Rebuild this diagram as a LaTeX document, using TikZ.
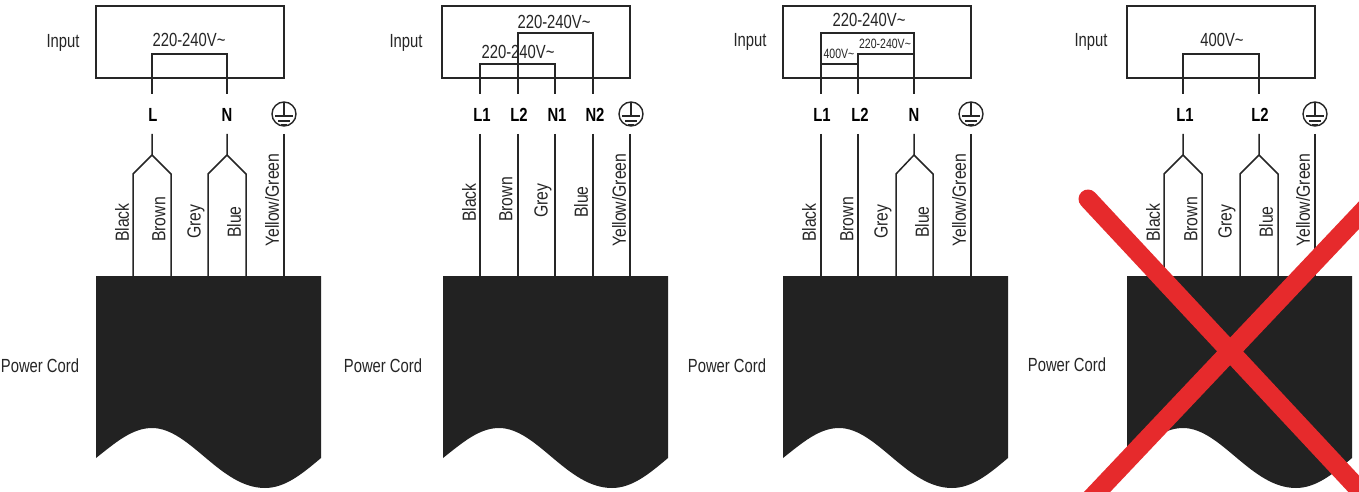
\documentclass[tikz,border=0pt]{standalone}
\usepackage{fontspec}
\setmainfont{Liberation Sans}
\newfontfamily\narrowf[FakeStretch=0.78]{Liberation Sans}
\newfontfamily\rotf[FakeStretch=0.83]{Liberation Sans}
\definecolor{ink}{HTML}{262626}
\definecolor{cordblack}{HTML}{222222}
\definecolor{crossred}{HTML}{E62A2C}
\tikzset{
  boxline/.style={draw=ink,line width=1.5pt,minimum width=188pt,minimum height=72pt,inner sep=0pt},
  wire/.style={draw=ink,line width=1.5pt,line join=miter},
  txt/.style={inner sep=0pt,text=ink,font=\fontsize{19}{19}\selectfont\narrowf},
  smalltxt/.style={inner sep=0pt,text=ink,font=\fontsize{13.500}{13.500}\selectfont\narrowf},
  term/.style={inner sep=0pt,text=black,font=\fontsize{19}{19}\selectfont\narrowf\bfseries},
  col/.style={inner sep=0pt,text=ink,rotate=90,anchor=west,font=\fontsize{19}{19}\selectfont\rotf},
  cordshape/.style={fill=cordblack,draw=none},
  crossline/.style={draw=crossred,line width=19pt,line cap=round},
  groundsym/.pic={
    \draw[ink,line width=1.4pt] (0,0) circle[radius=12];
    \draw[ink,line width=1.3pt] (0,-12) -- (0,2) (-9,2) -- (9,2) (-6,7) -- (6,7) (-3,11) -- (3,11);
  }
}
\newcommand{\cordat}[2]{\path[cordshape] (#1,276) -- (#1+225,276) -- (#1+225,458)
  .. controls (#1+206,474) and (#1+189,488) .. (#1+169,488)
  .. controls (#1+124,488) and (#1+94,428) .. (#1+56,428)
  .. controls (#1+36,428) and (#1+19,443) .. (#1,458) -- cycle;}
\begin{document}
\begin{tikzpicture}[x=1pt,y=-1pt]
\clip (0,0) rectangle (1359,492);
\fill[white] (0,0) rectangle (1359,492);

% ---------- panel 1
\node[boxline] (boxa) at (190,42) {};
\coordinate (aL) at (152,94); \coordinate (aN) at (227,94);
\coordinate (aLf) at (152,155); \coordinate (aNf) at (227,155);
\draw[wire] (aL) -- (152,54) -- (227,54) -- (aN);
\draw[wire] (152,134) -- (aLf) -- (133,174) -- (133,276);
\draw[wire] (aLf) -- (171,174) -- (171,276);
\draw[wire] (227,134) -- (aNf) -- (208,174) -- (208,276);
\draw[wire] (aNf) -- (246,174) -- (246,276);
\draw[wire] (284,134) -- (284,276);
\cordat{96}{}
\node[txt] (ainput) at (63,42.500) {Input};
\node[txt] (avolt) at (189,40) {220-240V\char`~};
\node[term] (atL) at (153,115) {L};
\node[term] (atN) at (227,115) {N};
\pic at (284,114) {groundsym};
\node[txt] (acord) at (40,366) {Power Cord};
\node[col] (a1) at (122,242) {Black};
\node[col] (a2) at (159,242) {Brown};
\node[col] (a3) at (196,239) {Grey};
\node[col] (a4) at (234,238) {Blue};
\node[col] (a5) at (272,247) {Yellow/Green};

% ---------- panel 2
\node[boxline] (boxb) at (536,42) {};
\draw[wire] (518,94) -- (518,33) -- (593,33) -- (593,94);
\draw[wire] (480,94) -- (480,64) -- (555,64) -- (555,94);
\draw[wire] (480,134) -- (480,276);
\draw[wire] (518,134) -- (518,276);
\draw[wire] (555,134) -- (555,276);
\draw[wire] (593,134) -- (593,276);
\draw[wire] (630,134) -- (630,276);
\cordat{443}{}
\node[txt] (binput) at (406,42.500) {Input};
\node[txt] (bvolt1) at (554,22) {220-240V\char`~};
\node[txt] (bvolt2) at (518,52) {220-240V\char`~};
\node[term] (btL1) at (482,115) {L1};
\node[term] (btL2) at (519,115) {L2};
\node[term] (btN1) at (557,115) {N1};
\node[term] (btN2) at (595,115) {N2};
\pic at (631,114) {groundsym};
\node[txt] (bcord) at (383,366) {Power Cord};
\node[col] (b1) at (469,222) {Black};
\node[col] (b2) at (506,222) {Brown};
\node[col] (b3) at (543,218) {Grey};
\node[col] (b4) at (581,218) {Blue};
\node[col] (b5) at (619,247) {Yellow/Green};

% ---------- panel 3
\node[boxline] (boxc) at (877,42) {};
\draw[wire] (821,94) -- (821,33) -- (914,33) -- (914,94);
\draw[wire] (821,64) -- (858,64) -- (858,94);
\draw[wire] (858,64) -- (858,54) -- (914,54);
\draw[wire] (821,134) -- (821,276);
\draw[wire] (858,134) -- (858,276);
\draw[wire] (914,134) -- (914,155) -- (896,174) -- (896,276);
\draw[wire] (914,155) -- (933,174) -- (933,276);
\draw[wire] (971,134) -- (971,276);
\cordat{783}{}
\node[txt] (cinput) at (750,42) {Input};
\node[txt] (cvolt1) at (869,20) {220-240V\char`~};
\node[smalltxt] (cvolt2) at (839,54) {400V\char`~};
\node[smalltxt] (cvolt3) at (885,44) {220-240V\char`~};
\node[term] (ctL1) at (822,115) {L1};
\node[term] (ctL2) at (860,115) {L2};
\node[term] (ctN) at (914,115) {N};
\pic at (971,114) {groundsym};
\node[txt] (ccord) at (727,366) {Power Cord};
\node[col] (c1) at (809,242) {Black};
\node[col] (c2) at (847,242) {Brown};
\node[col] (c3) at (883,239) {Grey};
\node[col] (c4) at (922,238) {Blue};
\node[col] (c5) at (959,247) {Yellow/Green};

% ---------- panel 4
\node[boxline] (boxd) at (1221,42) {};
\draw[wire] (1183,94) -- (1183,54) -- (1259,54) -- (1259,94);
\draw[wire] (1183,134) -- (1183,155) -- (1164,174) -- (1164,276);
\draw[wire] (1183,155) -- (1202,174) -- (1202,276);
\draw[wire] (1259,134) -- (1259,155) -- (1240,174) -- (1240,276);
\draw[wire] (1259,155) -- (1278,174) -- (1278,276);
\draw[wire] (1315,134) -- (1315,276);
\cordat{1127}{}
\node[txt] (dinput) at (1091,42) {Input};
\node[txt] (dvolt) at (1222,40) {400V\char`~};
\node[term] (dtL1) at (1185,115) {L1};
\node[term] (dtL2) at (1260,115) {L2};
\pic at (1315,114) {groundsym};
\node[txt] (dcord) at (1067,365) {Power Cord};
\node[col] (d1) at (1153,242) {Black};
\node[col] (d2) at (1191,242) {Brown};
\node[col] (d3) at (1227,239) {Grey};
\node[col] (d4) at (1266,238) {Blue};
\node[col] (d5) at (1303,247) {Yellow/Green};

% ---------- red cross
\coordinate (xa) at (1088,199);
\coordinate (xb) at (1380,512);
\coordinate (xc) at (1380,193);
\coordinate (xd) at (1080,510);
\draw[crossline] (xa) -- (xb);
\draw[crossline] (xc) -- (xd);
\end{tikzpicture}
\end{document}
